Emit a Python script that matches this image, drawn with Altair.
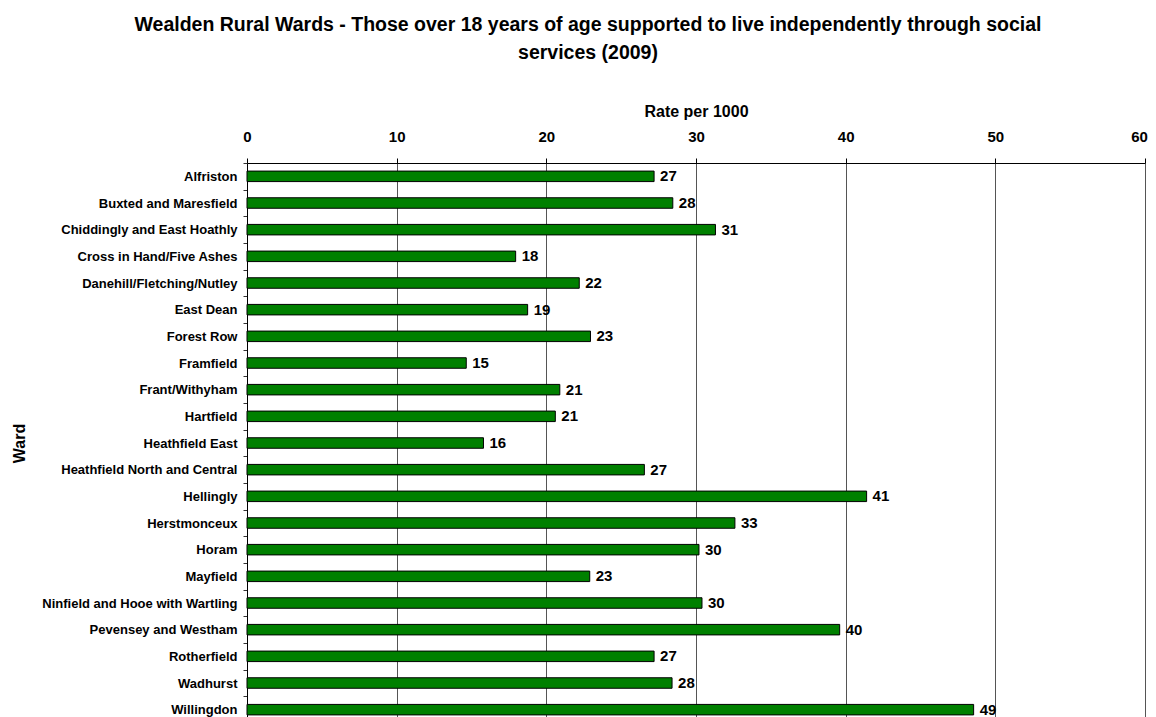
import altair as alt
import pandas as pd

wards = [
    "Alfriston", "Buxted and Maresfield", "Chiddingly and East Hoathly",
    "Cross in Hand/Five Ashes", "Danehill/Fletching/Nutley", "East Dean",
    "Forest Row", "Framfield", "Frant/Withyham", "Hartfield",
    "Heathfield East", "Heathfield North and Central", "Hellingly",
    "Herstmonceux", "Horam", "Mayfield", "Ninfield and Hooe with Wartling",
    "Pevensey and Westham", "Rotherfield", "Wadhurst", "Willingdon",
]
rates = [
    27.2, 28.45, 31.3, 17.95, 22.2, 18.75, 22.95, 14.65, 20.9, 20.6,
    15.8, 26.55, 41.4, 32.6, 30.2, 22.9, 30.4, 39.6, 27.2, 28.4, 48.55,
]
x_ticks = [0, 10, 20, 30, 40, 50, 60]

df = pd.DataFrame({"Ward": wards, "Rate": rates})

FONT = "Liberation Sans"

x_enc = alt.X(
    "Rate:Q",
    scale=alt.Scale(domain=[0, 60], nice=False),
    axis=alt.Axis(
        orient="top", values=x_ticks, title="Rate per 1000",
        titleFont=FONT, titleFontSize=16, titleFontWeight="bold", titleColor="black",
        titlePadding=10,
        labelFont=FONT, labelFontSize=15, labelFontWeight="bold", labelColor="black",
        labelPadding=14, tickSize=5, tickColor="black", domainColor="black",
        labelOffset={"condition": {"test": "datum.value === 60", "value": -6}, "value": 0},
        grid=True, gridColor="#555555", gridWidth=1, labelFlush=False,
    ),
)
y_enc = alt.Y(
    "Ward:N", sort=wards,
    scale=alt.Scale(paddingInner=0, paddingOuter=0),
    axis=alt.Axis(
        title="Ward", titleFont=FONT, titleFontSize=16, titleFontWeight="bold",
        titleColor="black", titlePadding=20,
        labelFont=FONT, labelFontSize=13, labelFontWeight="bold", labelColor="black",
        labelPadding=6, labelLimit=400, tickSize=4, tickColor="#333333",
        tickBand="extent", domainColor="black", grid=False,
    ),
)

bars = alt.Chart(df).mark_bar(
    size=10.5, color="#008000", stroke="black", strokeWidth=1
).encode(x=x_enc, y=y_enc)

labels = alt.Chart(df).mark_text(
    align="left", baseline="middle", dx=6, font=FONT, fontSize=15,
    fontWeight="bold", color="black"
).encode(
    x=alt.X("Rate:Q"), y=alt.Y("Ward:N", sort=wards),
    text=alt.Text("Rate:Q", format=".0f"),
)

chart = alt.layer(bars, labels).properties(
    width=898, height=560,
    autosize=alt.AutoSizeParams(type="none"),
    padding={"left": 239, "top": 155, "right": 3, "bottom": 0},
    title=alt.TitleParams(
        text=["Wealden Rural Wards - Those over 18 years of age supported to live independently through social",
              "services (2009)"],
        font=FONT, fontSize=19.5, fontWeight="bold", color="black",
        anchor="middle", lineHeight=28, offset=40, dx=-108,
    ),
).configure_view(strokeWidth=0).configure(background="white")

chart.save("out.html", embed_options={"renderer": "svg", "actions": False})
